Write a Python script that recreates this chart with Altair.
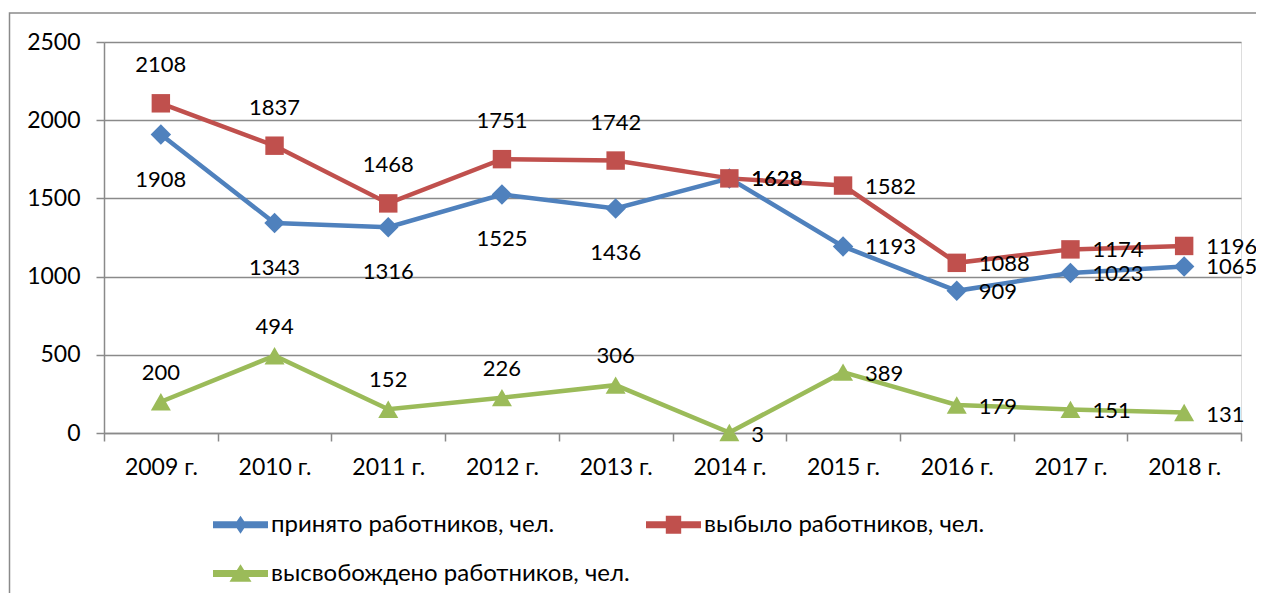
import altair as alt
import pandas as pd

years = ["2009 г.", "2010 г.", "2011 г.", "2012 г.", "2013 г.",
         "2014 г.", "2015 г.", "2016 г.", "2017 г.", "2018 г."]
hired = [1908, 1343, 1316, 1525, 1436, 1628, 1193, 909, 1023, 1065]
dismissed = [2108, 1837, 1468, 1751, 1742, 1628, 1582, 1088, 1174, 1196]
released = [200, 494, 152, 226, 306, 3, 389, 179, 151, 131]
series_names = ["принято работников, чел.", "выбыло работников, чел.",
                "высвобождено работников, чел."]
colors = ["#4F81BD", "#C0504D", "#9BBB59"]
y_ticks = [0, 500, 1000, 1500, 2000, 2500]

# label placement per series (style, not data)
sides = {
    series_names[0]: ["below"] * 5 + ["right"] * 5,
    series_names[1]: ["above"] * 5 + ["right"] * 5,
    series_names[2]: ["above"] * 5 + ["right"] * 5,
}

rows = []
for name, vals in zip(series_names, [hired, dismissed, released]):
    for yr, v, s in zip(years, vals, sides[name]):
        rows.append({"year": yr, "value": v, "series": name, "side": s})
df = pd.DataFrame(rows)

FONT = "Lato, Noto Sans, sans-serif"
GRID = "#8a8a8a"
W, H = 1137, 391

x_enc = alt.X("year:N", sort=years, title=None,
              scale=alt.Scale(type="band", domain=years, paddingInner=0, paddingOuter=0),
              axis=alt.Axis(tickBand="extent", labelAngle=0, grid=False, domainColor=GRID,
                            tickColor=GRID, tickSize=8, tickWidth=1.5, domainWidth=1.5,
                            labelFontSize=23, labelFont=FONT, labelColor="#000000",
                            labelPadding=15))
y_enc = alt.Y("value:Q", title=None,
              scale=alt.Scale(domain=[0, 2500], nice=False, zero=True),
              axis=alt.Axis(values=y_ticks, format="d", grid=True, gridColor=GRID, gridWidth=1.5,
                            domainColor=GRID, domainWidth=1.5, tickColor=GRID, tickWidth=1.5,
                            tickSize=8, labelFontSize=23, labelFont=FONT,
                            labelColor="#000000", labelPadding=16))

color_scale = alt.Scale(domain=series_names, range=colors)

base = alt.Chart(df)

lines = base.mark_line(strokeWidth=4.5).encode(
    x=x_enc, y=y_enc,
    color=alt.Color("series:N", scale=color_scale, legend=None),
    detail="series:N",
)

shapes = ["diamond", "square", "triangle-up"]
sizes = [420, 340, 400]
point_layers = []
for name, shp, sz in zip(series_names, shapes, sizes):
    point_layers.append(
        base.transform_filter(alt.datum.series == name).mark_point(
            shape=shp, size=sz, filled=True, opacity=1
        ).encode(x="year:N", y="value:Q",
                 color=alt.Color("series:N", scale=color_scale, legend=None))
    )

# legend provider: draws no marks, legend comes from explicit scale domains
legend_paths = [
    "M-1,-0.13H1V0.13H-1Z M0,-0.33L0.22,0L0,0.33L-0.22,0Z",
    "M-1,-0.13H1V0.13H-1Z M-0.28,-0.33H0.28V0.33H-0.28Z",
    "M-1,-0.13H1V0.13H-1Z M0,-0.34L0.4,0.3L-0.4,0.3Z",
]
leg = dict(title=None, orient="none", legendX=109, legendY=455,
           direction="horizontal", columns=2,
           columnPadding=16, rowPadding=9,
           symbolSize=3025, symbolStrokeWidth=0,
           labelFont=FONT, labelFontSize=24, labelColor="#000000",
           labelOffset=3, labelLimit=500)
legend_layer = base.transform_filter("false").mark_point(filled=True, opacity=1, size=3025).encode(
    x="year:N", y="value:Q",
    color=alt.Color("series:N", scale=color_scale, legend=alt.Legend(**leg)),
    shape=alt.Shape("series:N", scale=alt.Scale(domain=series_names, range=legend_paths),
                    legend=alt.Legend(**leg)),
)

text_specs = [
    (series_names[0], "below", dict(align="center", dx=0, dy=45)),
    (series_names[0], "right", dict(align="left", dx=22, dy=1)),
    (series_names[1], "above", dict(align="center", dx=0, dy=-38)),
    (series_names[1], "right", dict(align="left", dx=22, dy=1)),
    (series_names[2], "above", dict(align="center", dx=0, dy=-29)),
    (series_names[2], "right", dict(align="left", dx=22, dy=2)),
]
text_layers = []
for name, side, props in text_specs:
    text_layers.append(
        base.transform_filter((alt.datum.series == name) & (alt.datum.side == side))
        .mark_text(baseline="middle", font=FONT, fontSize=22, color="#000000", **props)
        .encode(x="year:N", y="value:Q", text="value:Q")
    )

border = alt.Chart(pd.DataFrame({"a": [0]})).mark_rect(
    fillOpacity=0, stroke=GRID, strokeWidth=1.5
).encode(x=alt.value(-94.5), x2=alt.value(W + 300), y=alt.value(-29), y2=alt.value(H + 400))

chart = alt.layer(border, lines, *point_layers, legend_layer, *text_layers).resolve_legend(
    color="independent", shape="independent"
).properties(
    width=W, height=H,
    autosize=alt.AutoSizeParams(type="none"),
    padding={"left": 96, "top": 34, "right": 15, "bottom": 160},
).configure_view(stroke=None).configure(background="#ffffff")

chart.save("out.html", embed_options={"renderer": "svg", "actions": False})
